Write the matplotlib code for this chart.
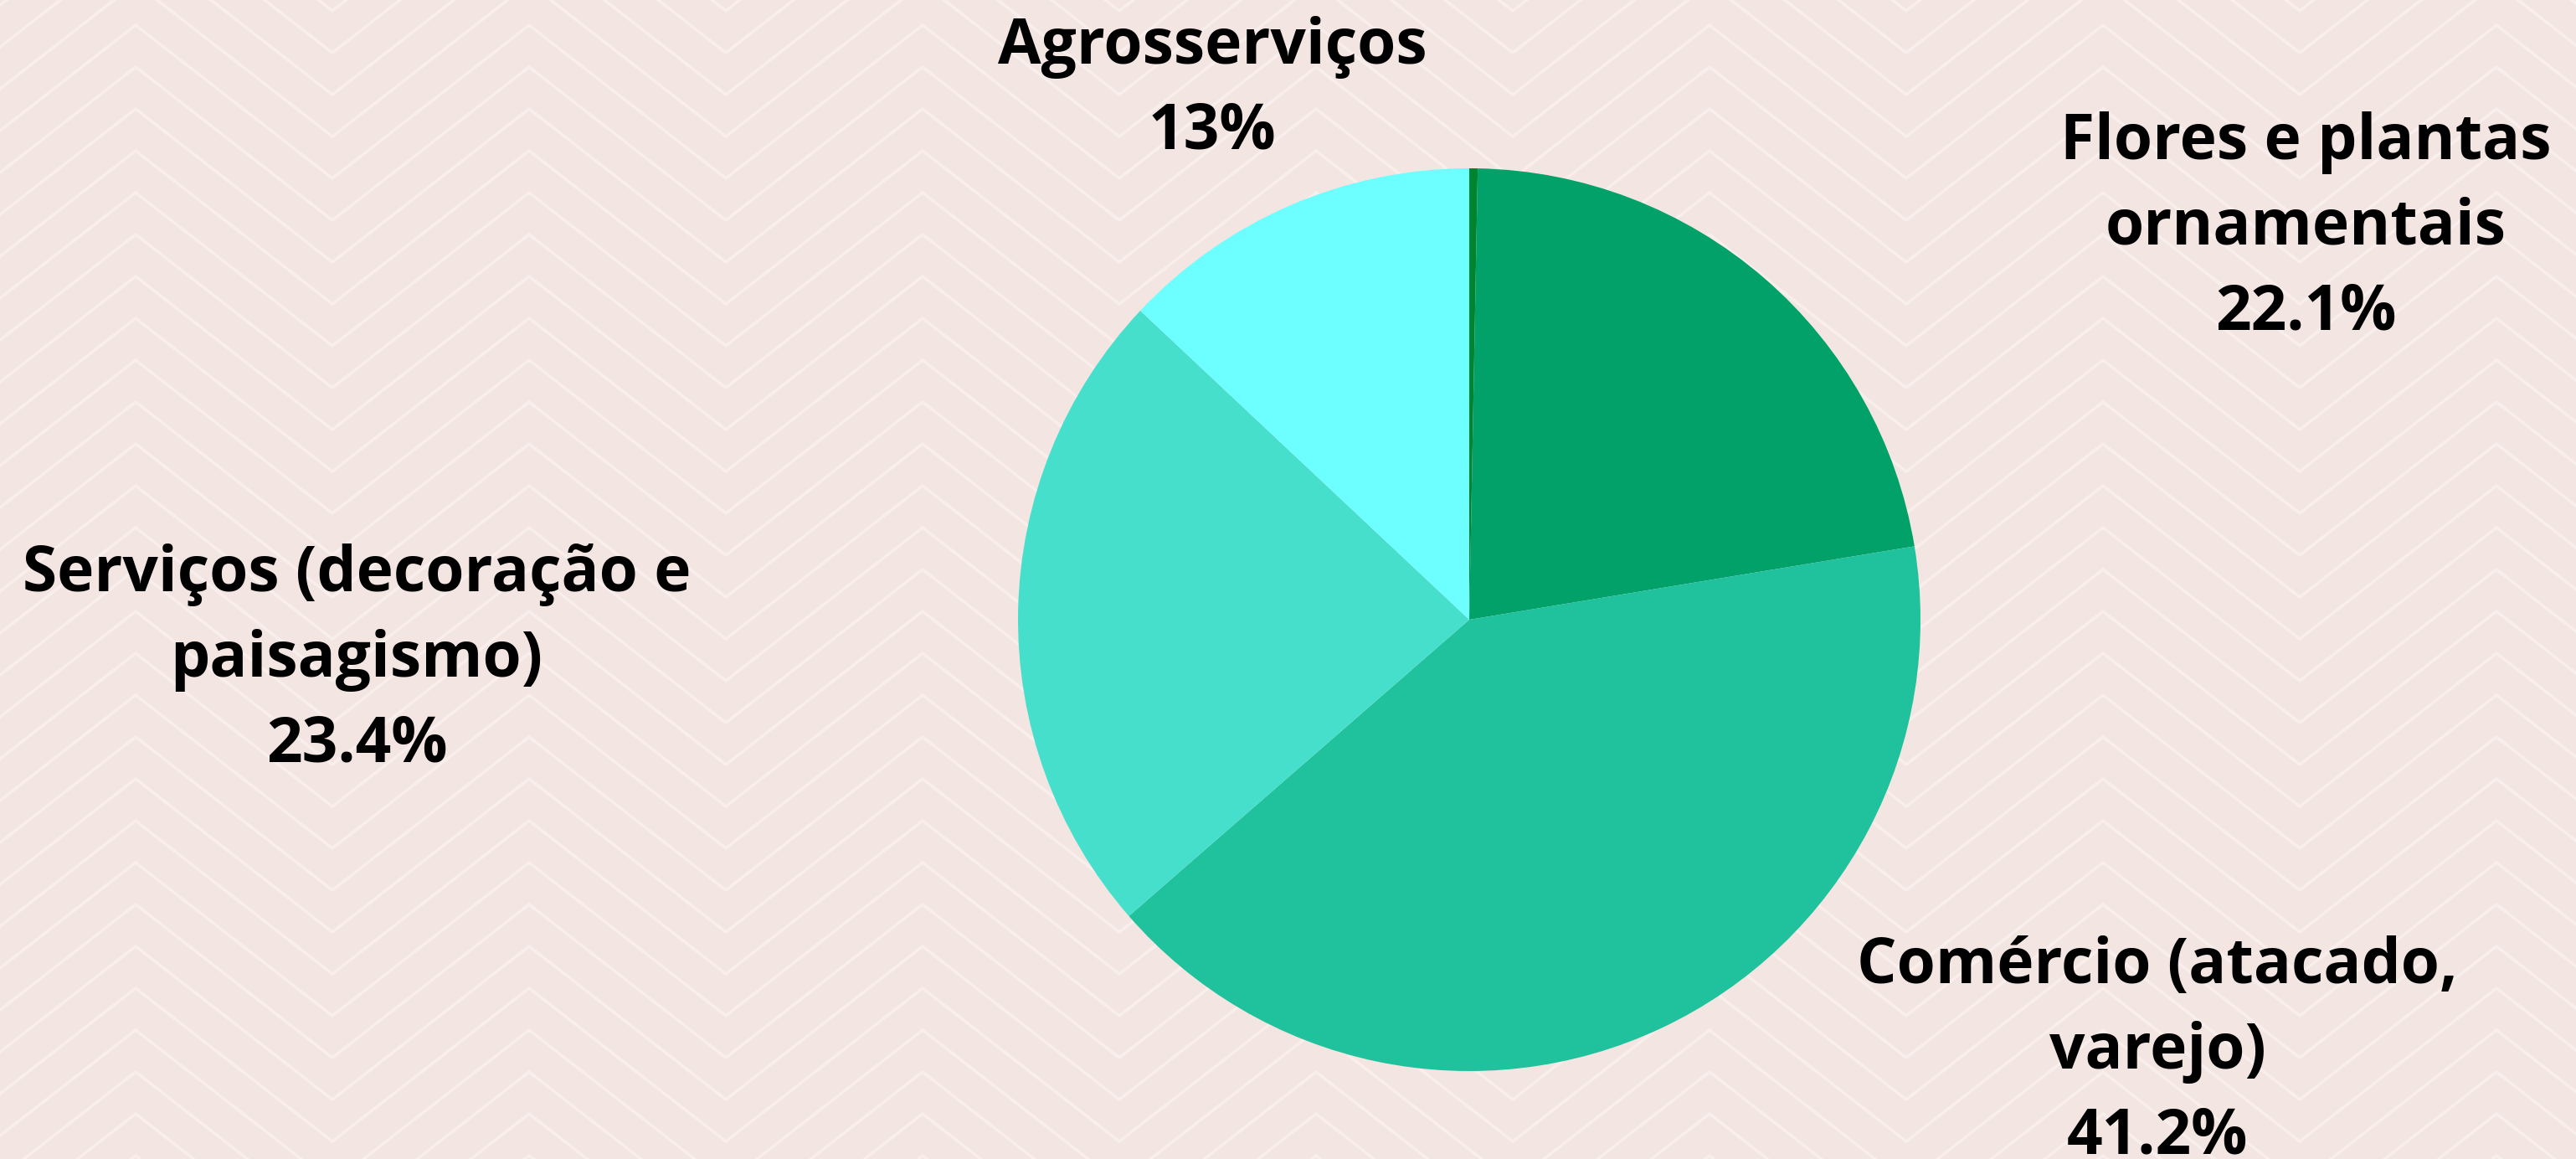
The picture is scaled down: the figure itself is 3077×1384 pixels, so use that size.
import matplotlib
matplotlib.use("Agg")
import matplotlib.pyplot as plt
import numpy as np

# ---- data ----
categories = ["", "Flores e plantas\nornamentais", "Comércio (atacado,\nvarejo)",
              "Serviços (decoração e\npaisagismo)", "Agrosserviços"]
values = [0.3, 22.1, 41.2, 23.4, 13.0]
pct_labels = ["", "22.1%", "41.2%", "23.4%", "13%"]
colors = ["#00832f", "#01a169", "#1fc29d", "#45dfcc", "#6dffff"]

W, H = 3077, 1384
BG = "#f3e5e2"
LINE = "#f8eeec"

fig = plt.figure(figsize=(W / 100, H / 100), dpi=100)
fig.patch.set_facecolor(BG)
ax = fig.add_axes([0, 0, 1, 1])
ax.set_facecolor(BG)

# background chevron pattern (pixel coordinates, y downwards)
period = 470
x0 = 162
amp = 183
xs = np.arange(x0 - 3 * period, W + 2 * period, period / 2)
for j in range(-12, 40):
    base = 30 + 50 * j
    ys = [base + (0 if k % 2 == 0 else amp) for k in range(len(xs))]
    ax.plot(xs, ys, color=LINE, lw=2.6, zorder=0, solid_joinstyle="miter")

# pie (y axis inverted -> counterclock in data = clockwise on screen)
ax.pie(values, colors=colors, startangle=-90, counterclock=True,
       center=(1755, 740), radius=539,
       wedgeprops=dict(linewidth=0, antialiased=True), frame=True)

ax.set_xlim(0, W)
ax.set_ylim(H, 0)
ax.set_aspect("equal", adjustable="box")
ax.axis("off")

font = dict(family="Open Sans", weight="bold", fontsize=53.8, color="black",
            ha="center", va="baseline")

# label placement (pixel coords: x centre, first baseline)
layout = {
    1: (2754, 190),
    2: (2577, 1174),
    3: (426, 706),
    4: (1448, 76),
}
step = 102
for i, (xc, yb) in layout.items():
    lines = categories[i].split("\n") + [pct_labels[i]]
    for n, line in enumerate(lines):
        ax.text(xc, yb + n * step, line, zorder=5, **font)

fig.savefig("out.png", dpi=100, facecolor=BG)
